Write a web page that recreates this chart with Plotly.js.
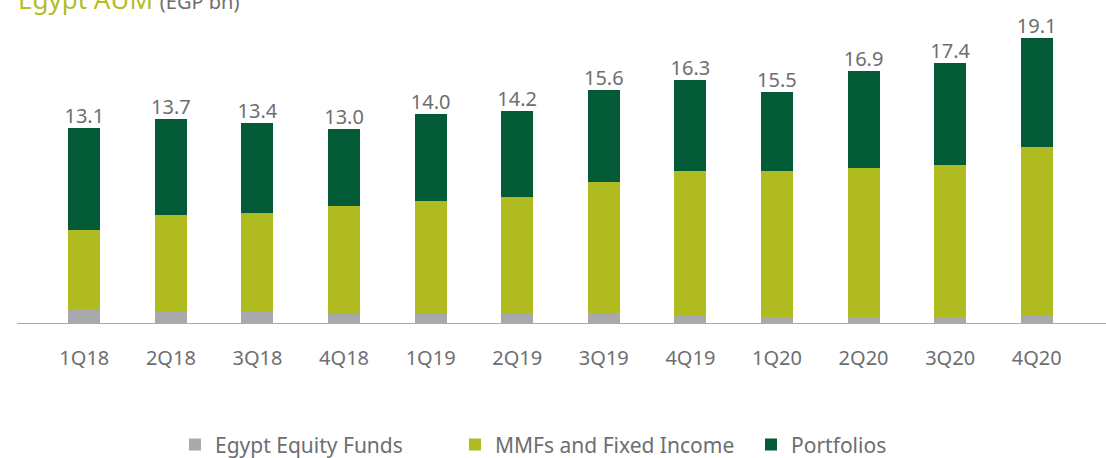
<!DOCTYPE html>
<html>
<head>
<meta charset="utf-8">
<script src="https://cdn.plot.ly/plotly-3.0.1.min.js"></script>
<style>html,body{margin:0;padding:0;background:#fff;}#chart{width:1106px;height:458px;}</style>
</head>
<body>
<div id="chart"></div>
<script>
const quarters = ['1Q18','2Q18','3Q18','4Q18','1Q19','2Q19','3Q19','4Q19','1Q20','2Q20','3Q20','4Q20'];
const equityFunds = [1.0, 0.9, 0.9, 0.7, 0.7, 0.7, 0.7, 0.6, 0.5, 0.5, 0.5, 0.6];
const mmfsFixedIncome = [5.3, 6.4, 6.5, 7.2, 7.5, 7.8, 8.8, 9.6, 9.7, 9.9, 10.1, 11.2];
const portfolios = [6.8, 6.4, 6.0, 5.1, 5.8, 5.7, 6.1, 6.1, 5.3, 6.5, 6.8, 7.3];
const totals = [13.1, 13.7, 13.4, 13.0, 14.0, 14.2, 15.6, 16.3, 15.5, 16.9, 17.4, 19.1];

const FONT = 'Noto Sans, Open Sans, sans-serif';
const GREY_TXT = '#6d6e71';
const W = 0.37;

const traces = [
  {type:'bar', name:'Egypt Equity Funds', x:quarters, y:equityFunds, width:W,
   marker:{color:'#a7a9ac'}, hoverinfo:'skip', legend:'legend'},
  {type:'bar', name:'MMFs and Fixed Income', x:quarters, y:mmfsFixedIncome, width:W,
   marker:{color:'#b0bb1f'}, hoverinfo:'skip', legend:'legend2'},
  {type:'bar', name:'Portfolios', x:quarters, y:portfolios, width:W,
   marker:{color:'#025a37'}, hoverinfo:'skip', legend:'legend3'},
  {type:'scatter', mode:'text', x:quarters, y:totals, showlegend:false,
   text: totals.map(v => v.toFixed(1)), textposition:'top center',
   textfont:{family:FONT, size:20, color:GREY_TXT}, hoverinfo:'skip', cliponaxis:false}
];

function leg(xpx){
  return {orientation:'h', x:(xpx-41)/1039, xanchor:'left', y:-0.384, yanchor:'middle',
          font:{family:FONT, size:21, color:GREY_TXT}, bgcolor:'rgba(0,0,0,0)'};
}

const layout = {
  width:1106, height:458,
  margin:{l:41, r:26, t:9, b:134, autoexpand:false},
  paper_bgcolor:'#fff', plot_bgcolor:'#fff',
  barmode:'stack', bargap:0.63,
  showlegend:true,
  legend:leg(175), legend2:leg(455), legend3:leg(751),
  xaxis:{type:'category', range:[-0.5, 11.5], showgrid:false, zeroline:false, showline:false,
         ticks:'', tickfont:{family:FONT, size:20, color:GREY_TXT}, ticklabelstandoff:20,
         fixedrange:true},
  yaxis:{range:[0,21], visible:false, showgrid:false, zeroline:false, fixedrange:true},
  shapes:[{type:'line', xref:'paper', yref:'y', x0:(17-41)/1039, x1:(1106-41)/1039, y0:0, y1:0,
           line:{color:'#a7a9ac', width:2}}],
  annotations:[{xref:'paper', yref:'paper', x:(17-41)/1039, y:1.033, xanchor:'left', yanchor:'middle',
    showarrow:false, borderpad:0,
    text:'<span style="color:#b5bd27;font-size:26px">Egypt AUM</span> <span style="color:'+GREY_TXT+';font-size:20px">(EGP bn)</span>',
    font:{family:FONT, size:26}}]
};

Plotly.newPlot('chart', traces, layout, {staticPlot:true, displayModeBar:false});
</script>
</body>
</html>
